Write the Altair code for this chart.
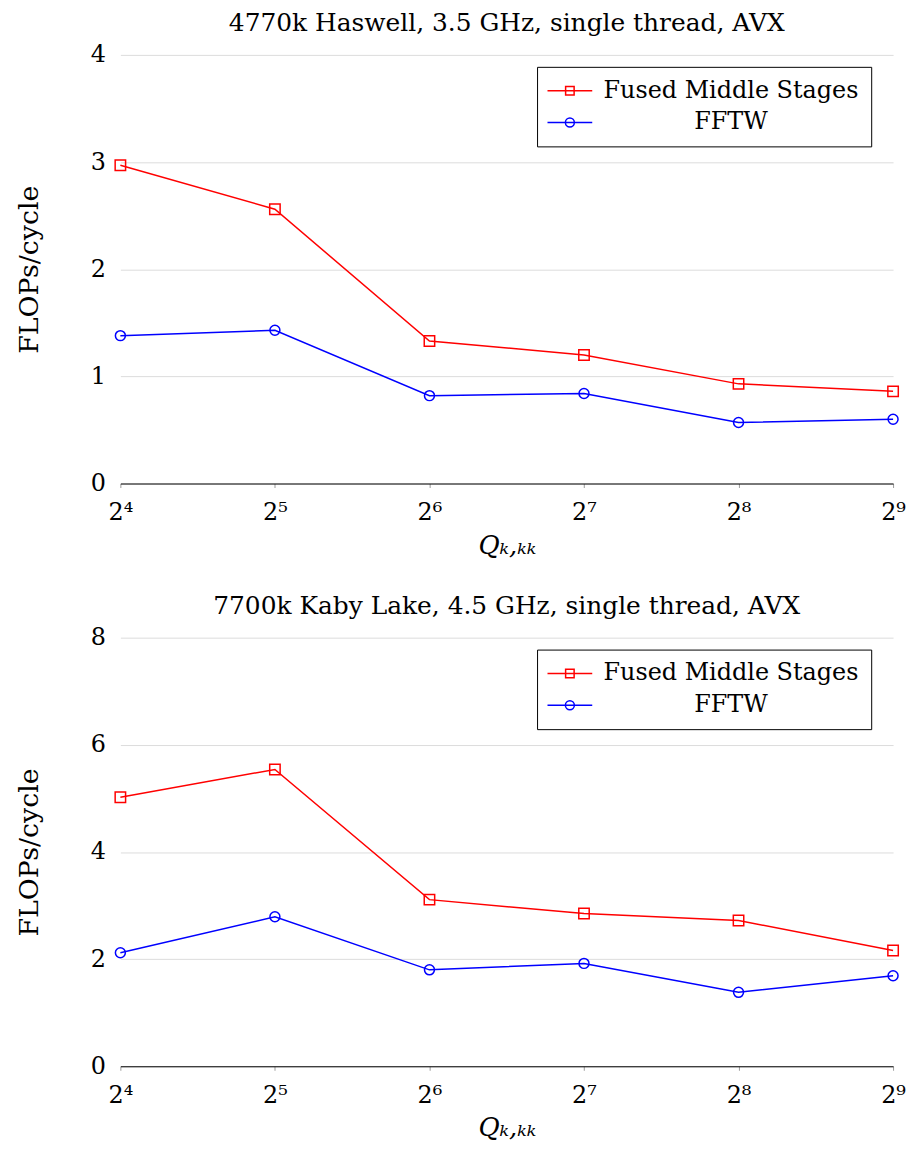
import altair as alt
import pandas as pd

# ---- data ----
x_values = [16, 32, 64, 128, 256, 512]
x_labels = ["2⁴", "2⁵", "2⁶", "2⁷", "2⁸", "2⁹"]
series_names = ["Fused Middle Stages", "FFTW"]
series_colors = ["#ff0000", "#0000ff"]

haswell_fused = [2.97, 2.56, 1.33, 1.20, 0.93, 0.86]
haswell_fftw = [1.38, 1.43, 0.82, 0.84, 0.57, 0.60]
kaby_fused = [5.02, 5.54, 3.11, 2.85, 2.72, 2.16]
kaby_fftw = [2.12, 2.79, 1.80, 1.92, 1.38, 1.69]

haswell_title = "4770k Haswell, 3.5 GHz, single thread, AVX"
kaby_title = "7700k Kaby Lake, 4.5 GHz, single thread, AVX"
haswell_yticks = [0, 1, 2, 3, 4]
kaby_yticks = [0, 2, 4, 6, 8]

FONT = "DejaVu Serif"

label_expr = " : ".join(
    f"datum.value == {v} ? '{l}'" for v, l in zip(x_values, x_labels)
) + " : ''"

# legend glyphs: a short line with the marker on it (path spans -2..2)
sq_path = "M-2,0H2M-0.38,-0.38H0.38V0.38H-0.38Z"
ci_path = "M-2,0H2M0.4,0A0.4,0.4 0 1,1 -0.4,0A0.4,0.4 0 1,1 0.4,0Z"


def make_df(fused, fftw):
    rows = []
    for x, v in zip(x_values, fused):
        rows.append({"Q": x, "value": v, "series": series_names[0]})
    for x, v in zip(x_values, fftw):
        rows.append({"Q": x, "value": v, "series": series_names[1]})
    return pd.DataFrame(rows)


def panel(df, title, yticks):
    x = alt.X(
        "Q:Q",
        scale=alt.Scale(type="log", base=2, domain=[x_values[0], x_values[-1]], nice=False),
        axis=alt.Axis(
            values=x_values,
            labelExpr=label_expr,
            title="Qₖ,ₖₖ",
            titleFont=FONT,
            titleFontStyle="italic",
            titleFontWeight="normal",
            titleFontSize=26,
            titlePadding=8,
            labelFont=FONT,
            labelFontSize=24,
            labelPadding=13,
            labelColor="black",
            titleColor="black",
            grid=False,
            domainColor="black",
            domainWidth=1,
            tickColor="#9a9a9a",
            tickSize=4,
            labelFlush=False,
        ),
    )
    y = alt.Y(
        "value:Q",
        scale=alt.Scale(domain=[yticks[0], yticks[-1]], nice=False),
        axis=alt.Axis(
            values=yticks,
            title="FLOPs/cycle",
            titleFont=FONT,
            titleFontWeight="normal",
            titleFontSize=27,
            titlePadding=47,
            titleColor="black",
            labelFont=FONT,
            labelFontSize=24,
            labelPadding=15,
            labelColor="black",
            domain=False,
            ticks=False,
            grid=True,
            gridColor="#dcdcdc",
            gridWidth=1,
        ),
    )
    color = alt.Color(
        "series:N",
        scale=alt.Scale(domain=series_names, range=series_colors),
        legend=alt.Legend(
            title=None,
            orient="none",
            legendX=419,
            legendY=12,
            strokeColor="black",
            fillColor="white",
            padding=12,
            cornerRadius=0,
            symbolSize=506,
            symbolOffset=9,
            symbolStrokeWidth=1.5,
            symbolFillColor="transparent",
            labelFont=FONT,
            labelFontSize=24,
            labelColor="black",
            labelAlign="center",
            labelOffset=150,
            labelLimit=400,
            rowPadding=8,
        ),
    )
    legend_shape = alt.Shape(
        "series:N",
        scale=alt.Scale(domain=series_names, range=[sq_path, ci_path]),
        legend=alt.Legend(title=None),
    )
    base = alt.Chart(df).encode(x=x, y=y, color=color)
    lines = base.mark_line(strokeWidth=1.5)
    pts_fused = base.transform_filter(
        alt.datum.series == series_names[0]
    ).mark_point(shape="square", filled=False, size=110, strokeWidth=1.5, opacity=1)
    pts_fftw = base.transform_filter(
        alt.datum.series == series_names[1]
    ).mark_point(shape="circle", filled=False, size=100, strokeWidth=1.5, opacity=1)
    legend_layer = base.transform_filter("false").mark_point(
        filled=False, opacity=1, strokeWidth=1.5
    ).encode(shape=legend_shape)
    return alt.layer(lines, pts_fused, pts_fftw, legend_layer).properties(
        width=777,
        height=431,
        title=alt.Title(title, font=FONT, fontSize=25, fontWeight="normal", color="black", offset=7),
    )


top = panel(make_df(haswell_fused, haswell_fftw), haswell_title, haswell_yticks)
bottom = panel(make_df(kaby_fused, kaby_fftw), kaby_title, kaby_yticks)

chart = (
    alt.vconcat(top, bottom, spacing=36)
    .resolve_scale(color="independent", shape="independent")
    .properties(padding={"left": 7, "top": 0, "right": 0, "bottom": 0}, background="white")
    .configure_view(stroke="transparent", strokeWidth=0)
)

chart.save("out.html", embed_options={"renderer": "svg", "actions": False})
